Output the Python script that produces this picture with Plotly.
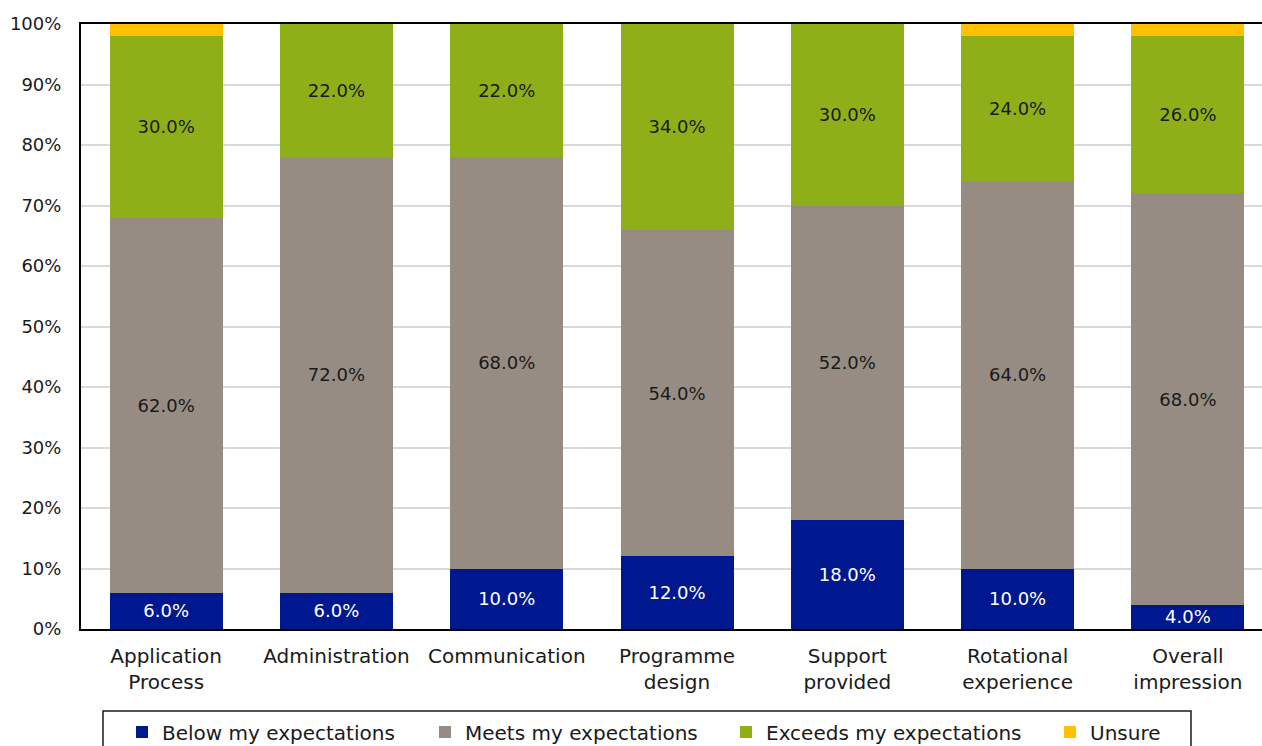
import plotly.graph_objects as go

categories = ["Application<br>Process", "Administration", "Communication",
              "Programme<br>design", "Support<br>provided", "Rotational<br>experience",
              "Overall<br>impression"]
below = [6, 6, 10, 12, 18, 10, 4]
meets = [62, 72, 68, 54, 52, 64, 68]
exceeds = [30, 22, 22, 34, 30, 24, 26]
unsure = [2, 0, 0, 0, 0, 2, 2]

series = [
    ("Below my expectations", below, "#00188F", "white", True),
    ("Meets my expectations", meets, "#968C83", "#1a1a1a", True),
    ("Exceeds my expectations", exceeds, "#8FAF18", "#1a1a1a", True),
    ("Unsure", unsure, "#FFC000", "#1a1a1a", False),
]

FONT = "DejaVu Sans"
W, H = 1262, 746
ML, MT, MB = 81, 24, 117
PLOT_W = W - ML
PLOT_H = H - MT - MB

# horizontal pixel where each legend entry's text begins
legend_text_x = [160, 463, 764, 1088]
legend_mid_y = 732

fig = go.Figure()
legend_layouts = {}
for i, (name, vals, color, tcolor, labelled) in enumerate(series):
    labels = [f"{v:.1f}%" if (labelled and v > 0) else "" for v in vals]
    lid = "legend" if i == 0 else f"legend{i + 1}"
    fig.add_trace(go.Bar(
        name=name, x=categories, y=vals, marker=dict(color=color, line=dict(width=0)),
        text=labels, textposition="inside", insidetextanchor="middle",
        textangle=0, constraintext="none",
        textfont=dict(family=FONT, size=18, color=tcolor),
        hoverinfo="skip", legend=lid,
    ))
    legend_layouts[lid] = dict(
        xref="container", yref="container",
        x=(legend_text_x[i] - 38) / W, y=1 - legend_mid_y / H,
        xanchor="left", yanchor="middle", orientation="h",
        font=dict(family=FONT, size=20, color="#1a1a1a"),
        bgcolor="rgba(0,0,0,0)", borderwidth=0,
    )

fig.update_layout(
    barmode="stack",
    bargap=0.336,
    width=W, height=H,
    margin=dict(l=ML, r=0, t=MT, b=MB, autoexpand=False),
    paper_bgcolor="white", plot_bgcolor="white",
    font=dict(family=FONT, size=18, color="#1a1a1a"),
    showlegend=True,
    shapes=[dict(type="rect", xref="paper", yref="paper",
                 x0=(103 - ML) / PLOT_W, x1=(1191 - ML) / PLOT_W,
                 y0=-(711 - (MT + PLOT_H)) / PLOT_H, y1=-0.3,
                 line=dict(color="#1a1a1a", width=1.5), fillcolor="rgba(0,0,0,0)")],
    **legend_layouts,
)
fig.update_xaxes(
    range=[-0.5, 6.435], showline=True, linecolor="black", linewidth=2, mirror=True,
    ticks="", showgrid=False, automargin=False, ticklabelstandoff=8,
    tickfont=dict(family=FONT, size=20, color="#1a1a1a"),
)
fig.update_yaxes(
    range=[0, 100], dtick=10, ticksuffix="%", showline=True, linecolor="black",
    linewidth=2, showgrid=True, gridcolor="#D9D9D9", gridwidth=1.5, ticks="",
    ticklabelstandoff=14, automargin=False,
    tickfont=dict(family=FONT, size=18, color="#1a1a1a"),
    zeroline=False,
)

fig.write_html("out.html")
